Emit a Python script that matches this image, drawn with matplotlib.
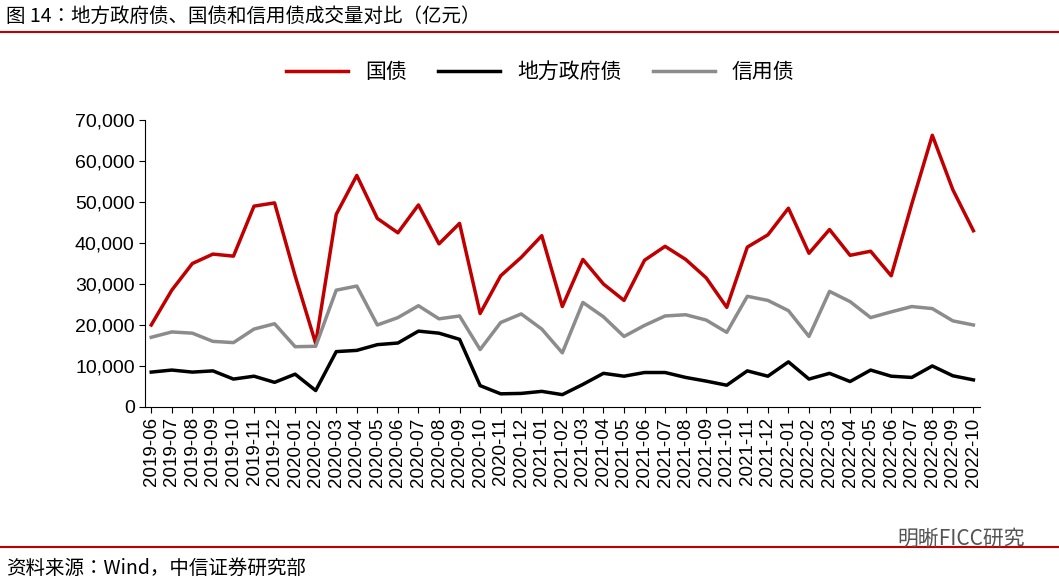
import matplotlib
matplotlib.use('Agg')
import matplotlib.pyplot as plt
from matplotlib import font_manager
import pandas as pd

plt.rcParams['font.family'] = 'Liberation Sans'
cjk_names = sorted({f.name for f in font_manager.fontManager.ttflist if 'CJK' in f.name})
CJK = next((n for n in cjk_names if 'SC' in n), cjk_names[0] if cjk_names else 'DejaVu Sans')

months = pd.date_range('2019-06', '2022-10', freq='MS').strftime('%Y-%m').tolist()

guozhai = [20000, 28500, 35000, 37300, 36800, 49000, 49800, 32000, 15500, 47000,
           56500, 46000, 42500, 49300, 39800, 44800, 22800, 32000, 36500, 41800,
           24500, 36000, 30000, 26000, 35800, 39200, 36000, 31500, 24300, 39000,
           42000, 48500, 37500, 43300, 37000, 38000, 32000, 49500, 66300, 53000, 43000]
difang = [8500, 9000, 8500, 8800, 6800, 7500, 6000, 8000, 4000, 13500,
          13800, 15200, 15600, 18500, 18000, 16500, 5200, 3200, 3300, 3800,
          3000, 5500, 8200, 7500, 8400, 8400, 7200, 6300, 5300, 8800,
          7500, 11000, 6800, 8200, 6200, 9000, 7500, 7200, 10000, 7600, 6600]
xinyong = [17000, 18300, 18000, 16000, 15700, 19000, 20300, 14700, 14800, 28500,
           29500, 20000, 21800, 24700, 21500, 22200, 14000, 20600, 22700, 19000,
           13200, 25500, 22000, 17200, 19900, 22200, 22500, 21200, 18200, 27000,
           26000, 23500, 17200, 28200, 25700, 21800, 23200, 24500, 24000, 21000, 20000]

red = '#C00000'
fig = plt.figure(figsize=(10.59, 5.83), dpi=100)
ax = fig.add_axes([0.137, 0.302, 0.788, 0.492])
x = range(len(months))
ax.plot(x, guozhai, color=red, lw=2.5, label='国债')
ax.plot(x, difang, color='black', lw=2.5, label='地方政府债')
ax.plot(x, xinyong, color='#8C8C8C', lw=2.5, label='信用债')

ax.set_xlim(-0.3, len(months) - 0.7)
ax.set_ylim(0, 70000)
ax.set_yticks(range(0, 70001, 10000))
ax.set_yticklabels([f'{v:,}' for v in range(0, 70001, 10000)], fontsize=14)
ax.set_xticks(list(x))
ax.set_xticklabels(months, rotation=90, fontsize=13.5)
for s in ['top', 'right']:
    ax.spines[s].set_visible(False)
ax.tick_params(axis='x', length=4, direction='out')
ax.tick_params(axis='y', length=4)

fig.legend(loc='center', bbox_to_anchor=(0.51, 0.876), ncol=3, frameon=False,
           prop={'family': CJK, 'size': 15}, handlelength=3, columnspacing=1.5)

fig.text(0.006, 0.972, '图 14：地方政府债、国债和信用债成交量对比（亿元）', fontsize=14,
         va='center', ha='left', family=CJK)
fig.add_artist(plt.Line2D([0, 1], [0.945, 0.945], color=red, lw=1.5))
fig.add_artist(plt.Line2D([0, 1], [0.062, 0.062], color=red, lw=1.5))
fig.text(0.006, 0.025, '资料来源：Wind，中信证券研究部', fontsize=14, va='center', ha='left',
         family=CJK)
fig.text(0.968, 0.075, '明晰FICC研究', fontsize=15, va='center', ha='right', color='#555555',
         family=CJK)

fig.savefig('out.png', dpi=100)
